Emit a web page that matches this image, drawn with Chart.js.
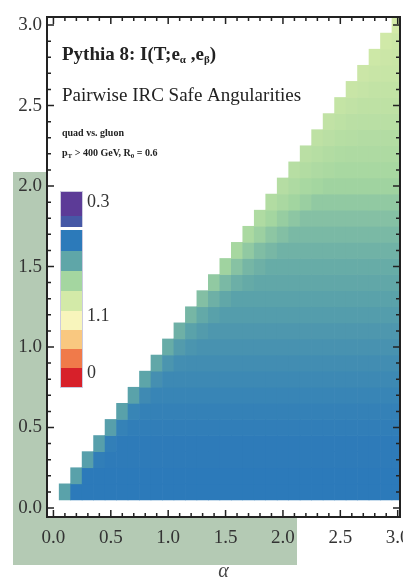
<!DOCTYPE html>
<html>
<head>
<meta charset="utf-8">
<script src="https://cdn.jsdelivr.net/npm/chart.js@4"></script>
<style>
  html, body { margin: 0; padding: 0; background: #fff; }
  #wrap { width: 403px; height: 578px; }
</style>
</head>
<body>
<div id="wrap"><canvas id="chart" width="403" height="578"></canvas></div>
<script>
// Cell centres along both axes
const alphaValues = [0.1, 0.2, 0.3, 0.4, 0.5, 0.6, 0.7, 0.8, 0.9, 1.0, 1.1, 1.2, 1.3, 1.4, 1.5,
                     1.6, 1.7, 1.8, 1.9, 2.0, 2.1, 2.2, 2.3, 2.4, 2.5, 2.6, 2.7, 2.8, 2.9, 3.0];
const betaValues = [0.1, 0.2, 0.3, 0.4, 0.5, 0.6, 0.7, 0.8, 0.9, 1.0, 1.1, 1.2, 1.3, 1.4, 1.5,
                    1.6, 1.7, 1.8, 1.9, 2.0, 2.1, 2.2, 2.3, 2.4, 2.5, 2.6, 2.7, 2.8, 2.9, 3.0];

// Mutual information, one row per beta; each row runs from alpha = beta up to alpha = 3.0
const miRows = [
  [.203,.233,.233,.233,.233,.233,.233,.233,.233,.233,.233,.233,.233,.233,.233,.233,.233,.233,.233,.233,.233,.233,.233,.233,.233,.233,.233,.233,.233,.233],
  [.204,.233,.233,.233,.233,.233,.233,.233,.233,.233,.233,.233,.233,.233,.233,.233,.233,.233,.233,.233,.233,.233,.233,.233,.233,.233,.233,.233,.233],
  [.205,.230,.232,.232,.232,.232,.232,.232,.232,.232,.232,.232,.232,.232,.232,.232,.232,.232,.232,.232,.232,.232,.232,.232,.232,.232,.232,.232],
  [.205,.229,.232,.232,.232,.232,.232,.232,.232,.232,.232,.232,.232,.232,.232,.232,.232,.232,.232,.232,.232,.232,.232,.232,.232,.232,.232],
  [.205,.227,.230,.230,.230,.230,.230,.230,.230,.230,.230,.230,.230,.230,.230,.230,.230,.230,.230,.230,.230,.230,.230,.230,.230,.230],
  [.204,.225,.228,.228,.228,.228,.228,.228,.228,.228,.228,.228,.228,.228,.228,.228,.228,.228,.228,.228,.228,.228,.228,.228,.228],
  [.203,.221,.225,.225,.225,.225,.225,.225,.225,.225,.225,.225,.225,.225,.225,.225,.225,.225,.225,.225,.225,.225,.225,.225],
  [.201,.217,.222,.222,.222,.222,.222,.222,.222,.222,.222,.222,.222,.222,.222,.222,.222,.222,.222,.222,.222,.222,.222],
  [.199,.213,.218,.219,.219,.219,.219,.219,.219,.219,.219,.219,.219,.219,.219,.219,.219,.219,.219,.219,.219,.219],
  [.196,.208,.213,.215,.215,.215,.215,.215,.215,.215,.215,.215,.215,.215,.215,.215,.215,.215,.215,.215,.215],
  [.193,.203,.208,.211,.211,.211,.211,.211,.211,.211,.211,.211,.211,.211,.211,.211,.211,.211,.211,.211],
  [.189,.198,.204,.207,.207,.207,.207,.207,.207,.207,.207,.207,.207,.207,.207,.207,.207,.207,.207],
  [.183,.193,.199,.203,.203,.203,.203,.203,.203,.203,.203,.203,.203,.203,.203,.203,.203,.203],
  [.176,.187,.194,.197,.199,.199,.199,.199,.199,.199,.199,.199,.199,.199,.199,.199,.199],
  [.169,.181,.189,.193,.196,.196,.196,.196,.196,.196,.196,.196,.196,.196,.196,.196],
  [.165,.176,.184,.188,.192,.192,.192,.192,.192,.192,.192,.192,.192,.192,.192],
  [.162,.171,.178,.183,.187,.187,.187,.187,.187,.187,.187,.187,.187,.187],
  [.159,.167,.173,.178,.182,.182,.182,.182,.182,.182,.182,.182,.182],
  [.157,.163,.168,.172,.176,.176,.176,.176,.176,.176,.176,.176],
  [.155,.160,.164,.167,.169,.169,.169,.169,.169,.169,.169],
  [.153,.157,.160,.162,.164,.164,.164,.164,.164,.164],
  [.151,.154,.157,.159,.160,.160,.160,.160,.160],
  [.148,.151,.154,.155,.156,.156,.156,.156],
  [.146,.149,.151,.152,.152,.152,.152],
  [.144,.146,.148,.148,.148,.148],
  [.141,.143,.145,.145,.145],
  [.139,.141,.142,.142],
  [.137,.139,.140],
  [.135,.138],
  [.133]
];

// Colour scale (value -> colour)
const scaleStops = [0, 0.033, 0.067, 0.1, 0.133, 0.167, 0.2, 0.233, 0.267, 0.3];
const scaleColors = ['#d7202a', '#f07a4a', '#f9c880', '#f8f5bc', '#d3eaa8',
                     '#a4d6a0', '#5fa6a8', '#2c7aba', '#4658a6', '#5c3b97'];

// Colour bar: swatch values top to bottom, and its labels
const legendValues = [0.3, 0.267, 0.233, 0.2, 0.167, 0.133, 0.1, 0.067, 0.033, 0];
const legendLabels = ['0.3', '1.1', '0'];
const legendLabelValues = [0.3, 0.1, 0];

const xTickLabels = ['0.0', '0.5', '1.0', '1.5', '2.0', '2.5', '3.0'];
const yTickLabels = ['0.0', '0.5', '1.0', '1.5', '2.0', '2.5', '3.0'];

const SERIF = "'Liberation Serif', 'DejaVu Serif', serif";

function hexToRgb(h) {
    return [parseInt(h.slice(1, 3), 16), parseInt(h.slice(3, 5), 16), parseInt(h.slice(5, 7), 16)];
}

function colorFor(v) {
    if (v <= scaleStops[0]) return scaleColors[0];
    for (let i = 1; i < scaleStops.length; i++) {
        if (v <= scaleStops[i]) {
            const t = (v - scaleStops[i - 1]) / (scaleStops[i] - scaleStops[i - 1]);
            const a = hexToRgb(scaleColors[i - 1]);
            const b = hexToRgb(scaleColors[i]);
            const c = a.map((ch, k) => Math.round(ch + (b[k] - ch) * t));
            return `rgb(${c[0]},${c[1]},${c[2]})`;
        }
    }
    return scaleColors[scaleColors.length - 1];
}

// Build floating bar cells from the rows
const cells = [];
const cellColors = [];
miRows.forEach((row, r) => {
    row.forEach((v, k) => {
        const b = betaValues[r];
        cells.push({ x: alphaValues[r + k], y: [b - 0.05, b + 0.05] });
        cellColors.push(colorFor(v));
    });
});

// Background highlight + frame, inward ticks, annotations and the colour bar
const decorPlugin = {
    id: 'decor',
    beforeDraw(chart) {
        const { ctx, chartArea: ca } = chart;
        ctx.save();
        ctx.fillStyle = '#b4cab4';
        ctx.fillRect(13, 172, ca.left - 13, ca.bottom - 172);
        ctx.fillRect(13, ca.bottom, 297 - 13, 565 - ca.bottom);
        ctx.restore();
    },
    afterDatasetsDraw(chart) {
        const { ctx, chartArea: ca, scales: { x, y } } = chart;
        ctx.save();

        // inward ticks on all four sides
        ctx.strokeStyle = '#222';
        ctx.lineWidth = 1.5;
        ctx.beginPath();
        for (let i = 0; i <= 30; i++) {
            const v = i / 10;
            const len = i % 5 === 0 ? 7 : 4;
            const px = x.getPixelForValue(v);
            const py = y.getPixelForValue(v);
            ctx.moveTo(px, ca.bottom); ctx.lineTo(px, ca.bottom - len);
            ctx.moveTo(px, ca.top); ctx.lineTo(px, ca.top + len);
            ctx.moveTo(ca.left, py); ctx.lineTo(ca.left + len, py);
            ctx.moveTo(ca.right, py); ctx.lineTo(ca.right - len, py);
        }
        ctx.stroke();

        // frame
        ctx.lineWidth = 2;
        ctx.strokeRect(ca.left, ca.top, ca.right - ca.left, ca.bottom - ca.top);

        // annotations
        const tx = ca.left + 15;
        ctx.fillStyle = '#222';
        ctx.textBaseline = 'alphabetic';
        ctx.textAlign = 'left';
        let cx = tx;
        const put = (s, font, dy) => {
            ctx.font = font;
            ctx.fillText(s, cx, 60 + dy);
            cx += ctx.measureText(s).width;
        };
        put('Pythia 8: I(T;e', `bold 19px ${SERIF}`, 0);
        put('α', `bold 11px ${SERIF}`, 3);
        put(' ,e', `bold 19px ${SERIF}`, 0);
        put('β', `bold 11px ${SERIF}`, 3);
        put(')', `bold 19px ${SERIF}`, 0);

        ctx.font = `19px ${SERIF}`;
        ctx.fillText('Pairwise IRC Safe Angularities', tx, 101);

        ctx.font = `bold 10px ${SERIF}`;
        ctx.fillText('quad vs. gluon', tx, 136);
        cx = tx;
        const put2 = (s, font, dy) => {
            ctx.font = font;
            ctx.fillText(s, cx, 156 + dy);
            cx += ctx.measureText(s).width;
        };
        put2('p', `bold 10px ${SERIF}`, 0);
        put2('T', `bold 7px ${SERIF}`, 2);
        put2(' > 400 GeV, R', `bold 10px ${SERIF}`, 0);
        put2('0', `bold 7px ${SERIF}`, 2);
        put2(' = 0.6', `bold 10px ${SERIF}`, 0);

        // colour bar
        const lx = ca.left + 14, lw = 21;
        const edges = [192, 216, 227, 251, 271, 291, 311, 330, 349, 368, 387];
        legendValues.forEach((v, i) => {
            ctx.fillStyle = colorFor(v);
            ctx.fillRect(lx, edges[i], lw, edges[i + 1] - edges[i]);
        });
        ctx.strokeStyle = 'rgba(190,190,215,0.8)';
        ctx.lineWidth = 1;
        ctx.strokeRect(lx - 0.5, 191.5, lw + 1, 196);
        ctx.fillStyle = '#fff';
        ctx.fillRect(lx - 1, 227, lw + 2, 3);

        ctx.fillStyle = '#333';
        ctx.font = `18px ${SERIF}`;
        ctx.textBaseline = 'middle';
        const top = 202, bottom = 373;
        legendLabels.forEach((s, i) => {
            const ly = bottom - (bottom - top) * legendLabelValues[i] / 0.3;
            ctx.fillText(s, lx + lw + 5, ly);
        });
        ctx.restore();
    }
};

const ctx = document.getElementById('chart').getContext('2d');

new Chart(ctx, {
    type: 'bar',
    data: {
        datasets: [{
            label: 'I(T;eα,eβ)',
            data: cells,
            backgroundColor: cellColors,
            borderWidth: 0,
            barPercentage: 1,
            categoryPercentage: 1,
            grouped: false
        }]
    },
    options: {
        responsive: false,
        animation: false,
        layout: { padding: { top: 17, right: 3, left: 0, bottom: 0 } },
        plugins: { legend: { display: false }, tooltip: { enabled: false } },
        scales: {
            x: {
                type: 'linear',
                min: -0.056,
                max: 3.02,
                offset: false,
                grid: { display: false, offset: false, drawTicks: false },
                border: { display: false },
                ticks: {
                    stepSize: 0.5,
                    includeBounds: false,
                    autoSkip: false,
                    maxRotation: 0,
                    padding: 10,
                    color: '#333',
                    font: { family: SERIF, size: 19 },
                    callback: (v) => xTickLabels[Math.round(v * 2)]
                },
                title: {
                    display: true,
                    text: 'α',
                    color: '#444',
                    font: { family: SERIF, size: 20, style: 'italic' },
                    padding: { top: 0, bottom: -6 }
                },
                afterFit: (s) => { s.height = 61; s.paddingLeft = 0; s.paddingRight = 0; }
            },
            y: {
                type: 'linear',
                min: -0.056,
                max: 3.05,
                grid: { display: false, drawTicks: false },
                border: { display: false },
                ticks: {
                    stepSize: 0.5,
                    includeBounds: false,
                    autoSkip: false,
                    padding: 5,
                    color: '#333',
                    font: { family: SERIF, size: 19 },
                    callback: (v) => yTickLabels[Math.round(v * 2)]
                },
                afterFit: (s) => { s.width = 47; s.paddingTop = 0; s.paddingBottom = 0; }
            }
        }
    },
    plugins: [decorPlugin]
});
</script>
</body>
</html>
